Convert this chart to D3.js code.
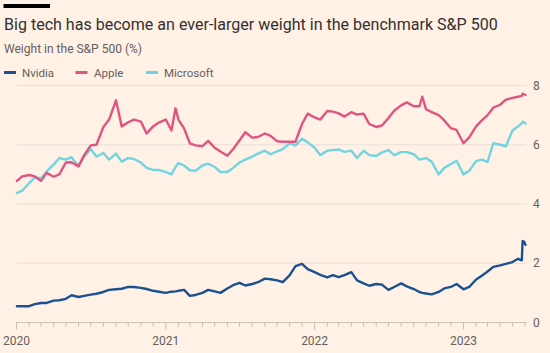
<!DOCTYPE html>
<html><head><meta charset="utf-8">
<script src="https://cdn.jsdelivr.net/npm/d3@7"></script>
<style>
html,body{margin:0;padding:0;background:#fff1e5;}
svg{display:block;}
text{font-family:Roboto,"Noto Sans",sans-serif;}
</style></head><body>
<svg id="chart" width="550" height="353"></svg>
<script>
// ---- data ----
const dates = ["2020-01-02","2020-01-15","2020-02-01","2020-02-15","2020-03-01","2020-03-15","2020-04-01","2020-04-15","2020-05-01","2020-05-15","2020-06-01","2020-06-15","2020-07-01","2020-07-15","2020-08-01","2020-08-15","2020-09-01","2020-09-15","2020-10-01","2020-10-15","2020-11-01","2020-11-15","2020-12-01","2020-12-15","2021-01-01","2021-01-15","2021-01-25","2021-02-01","2021-02-15","2021-03-01","2021-03-15","2021-04-01","2021-04-15","2021-05-01","2021-05-15","2021-06-01","2021-06-15","2021-07-01","2021-07-15","2021-08-01","2021-08-15","2021-09-01","2021-09-15","2021-10-01","2021-10-15","2021-11-01","2021-11-15","2021-12-01","2021-12-15","2022-01-01","2022-01-15","2022-02-01","2022-02-15","2022-03-01","2022-03-15","2022-04-01","2022-04-15","2022-05-01","2022-05-15","2022-06-01","2022-06-15","2022-07-01","2022-07-15","2022-08-01","2022-08-15","2022-09-01","2022-09-15","2022-09-22","2022-10-01","2022-10-15","2022-11-01","2022-11-15","2022-12-01","2022-12-15","2023-01-01","2023-01-15","2023-02-01","2023-02-15","2023-03-01","2023-03-15","2023-04-01","2023-04-15","2023-05-01","2023-05-15","2023-05-24","2023-05-26","2023-05-30","2023-06-02"];
const nvidia = [0.55,0.55,0.55,0.62,0.66,0.66,0.74,0.75,0.8,0.92,0.86,0.9,0.94,0.97,1.03,1.1,1.12,1.14,1.2,1.2,1.17,1.13,1.07,1.04,1.0,1.04,1.05,1.07,1.1,0.9,0.93,1.0,1.1,1.05,1.0,1.15,1.26,1.34,1.25,1.3,1.36,1.48,1.46,1.42,1.36,1.6,1.9,1.98,1.8,1.7,1.61,1.52,1.6,1.53,1.6,1.7,1.42,1.32,1.24,1.3,1.28,1.1,1.2,1.32,1.22,1.13,1.03,1.0,0.98,0.95,1.03,1.15,1.2,1.3,1.12,1.2,1.45,1.58,1.72,1.88,1.93,1.98,2.04,2.15,2.1,2.75,2.72,2.62];
const apple = [4.78,4.93,4.98,4.93,4.78,5.05,4.92,5.0,5.4,5.41,5.27,5.65,5.98,6.0,6.6,6.85,7.5,6.62,6.76,6.85,6.78,6.38,6.62,6.75,6.85,6.48,7.23,6.85,6.55,6.05,5.98,5.95,6.13,5.9,5.77,5.63,5.85,6.15,6.42,6.24,6.26,6.38,6.3,6.12,6.1,6.1,6.1,6.7,7.05,6.92,6.85,7.14,7.12,7.06,6.95,7.1,7.02,7.05,6.7,6.6,6.65,6.9,7.15,7.33,7.43,7.3,7.3,7.62,7.2,7.1,7.0,6.82,6.56,6.5,6.05,6.25,6.62,6.82,7.0,7.25,7.35,7.52,7.58,7.62,7.65,7.72,7.7,7.68];
const microsoft = [4.37,4.45,4.7,4.9,4.87,5.1,5.33,5.55,5.5,5.58,5.28,5.6,5.85,5.6,5.72,5.5,5.7,5.43,5.55,5.52,5.4,5.22,5.15,5.15,5.08,5.0,5.25,5.38,5.3,5.14,5.12,5.3,5.36,5.25,5.08,5.08,5.22,5.4,5.5,5.6,5.7,5.8,5.68,5.78,5.85,6.05,5.98,6.2,6.08,5.9,5.65,5.8,5.82,5.84,5.76,5.8,5.55,5.8,5.65,5.62,5.74,5.82,5.65,5.75,5.75,5.68,5.5,5.52,5.55,5.43,5.0,5.22,5.35,5.46,5.0,5.12,5.45,5.5,5.42,6.05,6.0,5.95,6.48,6.62,6.72,6.78,6.75,6.72];
const seriesNames = ["Nvidia","Apple","Microsoft"];
const yTickValues = [0,2,4,6,8];
const xDomain = ["2020-01-01","2023-06-04"];
const title = "Big tech has become an ever-larger weight in the benchmark S&P 500";
const subtitle = "Weight in the S&P 500 (%)";

// ---- styles ----
const colors = {Nvidia:"#1b5190", Apple:"#e0557f", Microsoft:"#71d4e1"};
const textGrey = "#66605c";

const parse = d3.timeParse("%Y-%m-%d");
const svg = d3.select("#chart");
svg.append("rect").attr("width",550).attr("height",353).attr("fill","#fff1e5");

const x = d3.scaleTime().domain(xDomain.map(parse)).range([16.5, 526.3]);
const y = d3.scaleLinear().domain([0, 8]).range([322.5, 85.5]);

// top black bar
svg.append("rect").attr("x",3.5).attr("y",4).attr("width",46.5).attr("height",4).attr("fill","#000");

// title
const t = svg.append("text").attr("x",4).attr("y",30).attr("fill","#33302e")
  .style("font-size","17px").text(title);
let w = t.node().getComputedTextLength();
t.style("font-size", (17*494/w).toFixed(2)+"px");

const st = svg.append("text").attr("x",4).attr("y",52.5).attr("fill",textGrey)
  .style("font-size","12.5px").text(subtitle);
w = st.node().getComputedTextLength();
st.style("font-size", (12.5*138/w).toFixed(2)+"px");

// legend
const legendY = 72.5;
const legendPos = [{sx:4,tx:22},{sx:75.5,tx:94},{sx:146,tx:164}];
seriesNames.forEach((name,i)=>{
  const g = svg.append("g");
  g.append("line").attr("x1",legendPos[i].sx).attr("x2",legendPos[i].sx+12)
    .attr("y1",legendY).attr("y2",legendY).attr("stroke",colors[name]).attr("stroke-width",3);
  g.append("text").attr("x",legendPos[i].tx).attr("y",legendY).attr("dy","0.35em")
    .attr("fill",textGrey).style("font-size","11.5px").text(name);
});

// gridlines + right labels
const [x0,x1] = x.range();
const grid = svg.append("g");
grid.selectAll("line").data(yTickValues.filter(d=>d>0)).join("line")
  .attr("x1",x0).attr("x2",x1).attr("y1",d=>y(d)).attr("y2",d=>y(d))
  .attr("stroke","#eadfd4").attr("stroke-width",1);
svg.append("g").selectAll("text").data(yTickValues).join("text")
  .attr("x",533).attr("y",d=>y(d)).attr("dy","0.35em")
  .attr("fill",textGrey).style("font-size","12px").text(d=>d);

// x axis baseline & ticks
svg.append("line").attr("x1",x0).attr("x2",x1).attr("y1",y(0)).attr("y2",y(0))
  .attr("stroke","#cfc3b8").attr("stroke-width",1);
const months = x.ticks(d3.timeMonth.every(1));
svg.append("g").selectAll("line").data(months).join("line")
  .attr("x1",d=>x(d)).attr("x2",d=>x(d))
  .attr("y1",y(0)).attr("y2",d=>y(0)+(d.getMonth()===0?7:4))
  .attr("stroke","#c9bdb2").attr("stroke-width",1);
const years = x.ticks(d3.timeYear.every(1));
svg.append("g").selectAll("text").data(years).join("text")
  .attr("x",d=>x(d)).attr("y",345).attr("text-anchor","middle")
  .attr("fill",textGrey).style("font-size","12px").text(d3.timeFormat("%Y"));

// lines
const seriesData = {Nvidia:nvidia, Apple:apple, Microsoft:microsoft};
const line = d3.line().x(d=>x(d.date)).y(d=>y(d.v));
["Microsoft","Apple","Nvidia"].forEach(name=>{
  const pts = dates.map((d,i)=>({date:parse(d), v:seriesData[name][i]}));
  svg.append("path").datum(pts).attr("d",line).attr("fill","none")
    .attr("stroke",colors[name]).attr("stroke-width",2.4)
    .attr("stroke-linejoin","round").attr("stroke-linecap","round");
});
</script>
</body></html>
